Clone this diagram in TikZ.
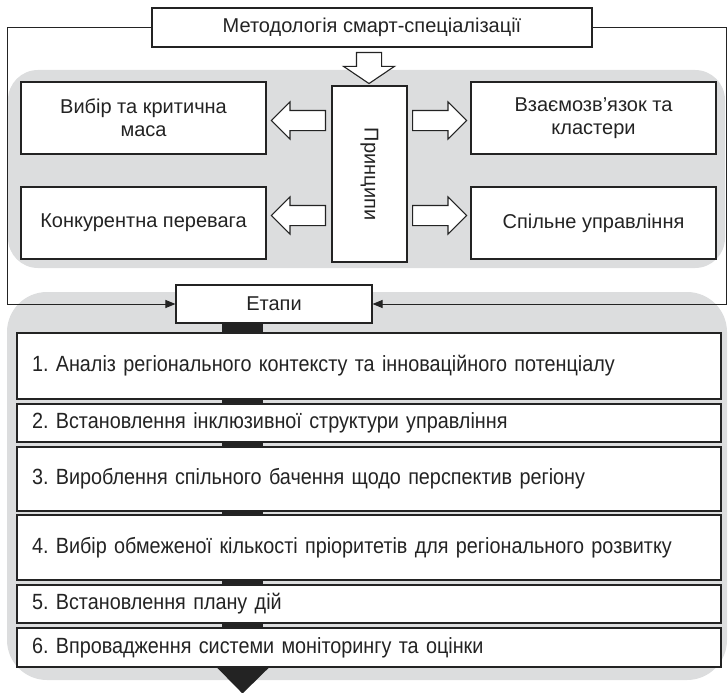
\documentclass[tikz,border=0pt]{standalone}
\usepackage{fontspec}
\setmainfont{Liberation Sans}
\newfontfamily\narrowfont[FakeStretch=0.9]{Liberation Sans}
\usetikzlibrary{arrows.meta,shapes.arrows}
\definecolor{panelgray}{RGB}{220,221,222}
\definecolor{inkgray}{RGB}{35,35,35}
\frenchspacing

\begin{document}
\begin{tikzpicture}[x=1pt, y=-1pt, line join=miter,
        box/.style={draw=inkgray, fill=white, line width=1.1pt, inner sep=0pt, align=center, text=inkgray, font=\fontsize{20}{23}\selectfont},
        stagebox/.style={box, text width=674pt, inner xsep=15pt, align=left, font=\narrowfont\fontsize{22}{26}\selectfont},
        hollow/.style={single arrow, draw=inkgray, fill=white, line width=1.1pt, inner xsep=0pt, single arrow head indent=0pt},
        feed/.style={draw=inkgray, line width=1pt, -{Triangle[length=10pt,width=8pt]}},
        bar/.style={draw=inkgray, line width=41pt, line cap=butt}]
        \useasboundingbox (0,0) rectangle (728,693);

        \fill[panelgray, rounded corners=30pt] (8,70) rectangle (725,268);
        \fill[panelgray, rounded corners=40pt] (7,292) rectangle (727,680);

        \coordinate (lc) at (7,0);
        \coordinate (rc) at (726,0);
        \coordinate (bx) at (242.5,0);

        \node[box, minimum width=440pt, minimum height=39pt] (title) at (372,27.5) {Методологія смарт-спеціалізації};
        \node[box, rotate=-90, minimum width=176pt, minimum height=75pt] (pr) at (369.5,174) {Принципи};
        \node[box, minimum width=245pt, minimum height=72pt] (sel) at (143.5,118) {Вибір та критична\\маса};
        \node[box, minimum width=245pt, minimum height=72pt] (comp) at (143.5,223) {Конкурентна перевага};
        \node[box, minimum width=245pt, minimum height=72pt] (link) at (593.5,118) {Взаємозв’язок та\\кластери};
        \node[box, minimum width=245pt, minimum height=72pt] (gov) at (593.5,223) {Спільне управління};

        \node[hollow, rotate=-90, anchor=tail, inner ysep=12pt, single arrow head extend=13pt, single arrow tip angle=112, minimum height=31pt] (adown) at (369,52) {};
        \node[hollow, shape border rotate=180, anchor=tail, inner ysep=9.5pt, single arrow head extend=8.5pt, minimum height=54pt] (aleft1) at (326,120.5) {};
        \node[hollow, shape border rotate=180, anchor=tail, inner ysep=9.5pt, single arrow head extend=8.5pt, minimum height=54pt] (aleft2) at (326,215.5) {};
        \node[hollow, anchor=tail, inner ysep=9.5pt, single arrow head extend=8.5pt, minimum height=54pt] (aright1) at (412,120.5) {};
        \node[hollow, anchor=tail, inner ysep=9.5pt, single arrow head extend=8.5pt, minimum height=54pt] (aright2) at (412,215.5) {};

        \node[box, minimum width=196pt, minimum height=38pt] (stages) at (274,304) {Етапи};
        \node[stagebox, minimum height=66pt] (s1) at (369,366) {1. Аналіз регіонального контексту та інноваційного потенціалу};
        \node[stagebox, minimum height=38pt] (s2) at (369,423) {2. Встановлення інклюзивної структури управління};
        \node[stagebox, minimum height=64pt] (s3) at (369,479) {3. Вироблення спільного бачення щодо перспектив регіону};
        \node[stagebox, minimum height=65pt] (s4) at (369,547.5) {4. Вибір обмеженої кількості пріоритетів для регіонального розвитку};
        \node[stagebox, minimum height=38pt] (s5) at (369,604) {5. Встановлення плану дій};
        \node[stagebox, minimum height=39pt] (s6) at (369,647.5) {6. Впровадження системи моніторингу та оцінки};

        \draw[feed] (title.west) -| (lc |- stages.west) -- (stages.west);
        \draw[feed] (title.east) -| (rc |- stages.east) -- (stages.east);

        \foreach \a/\b in {stages/s1, s1/s2, s2/s3, s3/s4, s4/s5, s5/s6}
            \draw[bar] (\a.south -| bx) -- (\b.north -| bx);
        \fill[inkgray] ([xshift=-25.5pt]s6.south -| bx) -- ([xshift=26.5pt]s6.south -| bx) -- ([yshift=-26pt]s6.south -| bx) -- cycle;
    \end{tikzpicture}
\end{document}
